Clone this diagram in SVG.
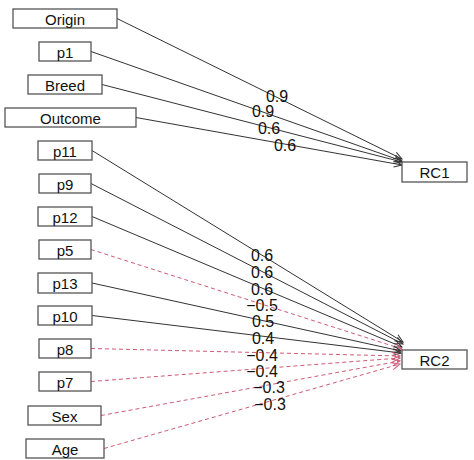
<svg xmlns="http://www.w3.org/2000/svg" width="474" height="460" viewBox="0 0 474 460">
<style>
  .box { fill: #ffffff; stroke: #555555; stroke-width: 1.3; }
  .lbl { font-family: "Liberation Sans", Arial, sans-serif; font-size: 15px; fill: #111111; text-anchor: middle; }
  .num { font-family: "Liberation Sans", Arial, sans-serif; font-size: 16px; fill: #111111; text-anchor: middle; }
  .pos { stroke: #333333; stroke-width: 1; fill: none; marker-end: url(#arrK); }
  .neg { stroke: #cf5a78; stroke-width: 1; stroke-dasharray: 4 3; fill: none; marker-end: url(#arrR); }
</style>
<defs>
  <marker id="arrK" markerUnits="userSpaceOnUse" markerWidth="12" markerHeight="12" refX="9" refY="6" orient="auto">
    <path d="M1,2.5 L9,6 L1,9.5" fill="none" stroke="#333333" stroke-width="1"/>
  </marker>
  <marker id="arrR" markerUnits="userSpaceOnUse" markerWidth="12" markerHeight="12" refX="9" refY="6" orient="auto">
    <path d="M1,2.5 L9,6 L1,9.5" fill="none" stroke="#cf5a78" stroke-width="1"/>
  </marker>
</defs>
<g id="connectors">
  <line class="pos" x1="117" y1="18.5" x2="402" y2="159"/>
  <line class="pos" x1="91" y1="51.5" x2="402" y2="161"/>
  <line class="pos" x1="102" y1="84.5" x2="402" y2="162"/>
  <line class="pos" x1="136" y1="117.5" x2="402" y2="165"/>
  <line class="pos" x1="92" y1="150.5" x2="403" y2="342"/>
  <line class="pos" x1="91" y1="183.5" x2="403" y2="344"/>
  <line class="pos" x1="92" y1="216.5" x2="402" y2="347"/>
  <line class="neg" x1="91" y1="249.5" x2="402" y2="349"/>
  <line class="pos" x1="92" y1="283" x2="401" y2="351"/>
  <line class="pos" x1="92" y1="315.5" x2="401" y2="353"/>
  <line class="neg" x1="91" y1="348.5" x2="400" y2="356"/>
  <line class="neg" x1="91" y1="381.5" x2="400" y2="358"/>
  <line class="neg" x1="101" y1="415.5" x2="400" y2="361"/>
  <line class="neg" x1="104" y1="448.5" x2="400" y2="364"/>
  <text class="num" x="277" y="101.5">0.9</text>
  <text class="num" x="263" y="117">0.9</text>
  <text class="num" x="269" y="134">0.6</text>
  <text class="num" x="285" y="151">0.6</text>
  <text class="num" x="262" y="261">0.6</text>
  <text class="num" x="262" y="277.5">0.6</text>
  <text class="num" x="262" y="294.5">0.6</text>
  <text class="num" x="262" y="311">−0.5</text>
  <text class="num" x="263" y="327">0.5</text>
  <text class="num" x="263" y="344">0.4</text>
  <text class="num" x="262" y="361">−0.4</text>
  <text class="num" x="262" y="377">−0.4</text>
  <text class="num" x="269" y="393">−0.3</text>
  <text class="num" x="270" y="410">−0.3</text>
</g>
<g id="node-Origin"><rect class="box" x="13" y="9" width="104" height="19"/><text class="lbl" x="65" y="24.5">Origin</text></g>
<g id="node-p1"><rect class="box" x="39" y="42" width="52" height="19"/><text class="lbl" x="65" y="57.5">p1</text></g>
<g id="node-Breed"><rect class="box" x="28" y="75" width="74" height="19"/><text class="lbl" x="65" y="90.5">Breed</text></g>
<g id="node-Outcome"><rect class="box" x="5" y="108" width="131" height="19"/><text class="lbl" x="70.5" y="123.5">Outcome</text></g>
<g id="node-p11"><rect class="box" x="38" y="141" width="54" height="19"/><text class="lbl" x="65" y="156.5">p11</text></g>
<g id="node-p9"><rect class="box" x="39" y="174" width="52" height="19"/><text class="lbl" x="65" y="189.5">p9</text></g>
<g id="node-p12"><rect class="box" x="38" y="207" width="54" height="19"/><text class="lbl" x="65" y="222.5">p12</text></g>
<g id="node-p5"><rect class="box" x="39" y="240" width="52" height="19"/><text class="lbl" x="65" y="255.5">p5</text></g>
<g id="node-p13"><rect class="box" x="38" y="273" width="54" height="20"/><text class="lbl" x="65" y="289">p13</text></g>
<g id="node-p10"><rect class="box" x="38" y="306" width="54" height="19"/><text class="lbl" x="65" y="321.5">p10</text></g>
<g id="node-p8"><rect class="box" x="39" y="339" width="52" height="19"/><text class="lbl" x="65" y="354.5">p8</text></g>
<g id="node-p7"><rect class="box" x="39" y="372" width="52" height="19"/><text class="lbl" x="65" y="387.5">p7</text></g>
<g id="node-Sex"><rect class="box" x="28" y="406" width="73" height="19"/><text class="lbl" x="64.5" y="421.5">Sex</text></g>
<g id="node-Age"><rect class="box" x="26" y="439" width="78" height="19"/><text class="lbl" x="65" y="454.5">Age</text></g>
<g id="node-RC1"><rect class="box" x="402" y="162" width="65" height="20"/><text class="lbl" x="434.5" y="178">RC1</text></g>
<g id="node-RC2"><rect class="box" x="402" y="350" width="65" height="19"/><text class="lbl" x="434.5" y="365.5">RC2</text></g>
</svg>
